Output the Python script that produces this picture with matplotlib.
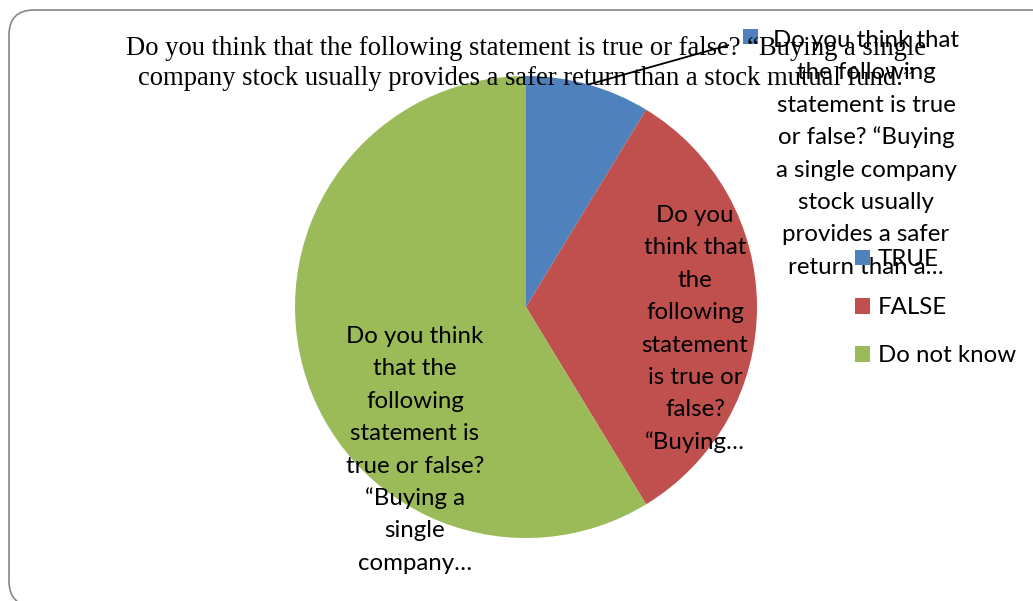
import matplotlib.pyplot as plt
from matplotlib.patches import FancyBboxPatch, Rectangle
from matplotlib.transforms import IdentityTransform
import numpy as np

W, H = 1033, 601

title_lines = ["Do you think that the following statement is true or false? \u201cBuying a single",
               "company stock usually provides a safer return than a stock mutual fund.\u201d"]
categories = ["TRUE", "FALSE", "Do not know"]
shares = [8.7, 32.6, 58.7]
colors = ["#4F81BD", "#C0504D", "#9BBB59"]

# data labels, wrapped the way the label boxes break them
label_lines = [
    ["Do you think that", "the following", "statement is true", "or false? \u201cBuying",
     "a single company", "stock usually", "provides a safer", "return than a\u2026"],
    ["Do you", "think that", "the", "following", "statement", "is true or",
     "false?", "\u201cBuying\u2026"],
    ["Do you think", "that the", "following", "statement is", "true or false?",
     "\u201cBuying a", "single", "company\u2026"],
]

SANS = ["Lato", "DejaVu Sans"]
SERIF = ["Liberation Serif", "DejaVu Serif"]
FS = 17.3        # label / legend size
PITCH = 32.4     # line pitch of the wrapped labels, px


def px(y):
    # pixel rows count from the top, data y from the bottom
    return H - y


fig = plt.figure(figsize=(W / 100, H / 100), dpi=100)
ax = fig.add_axes([0, 0, 1, 1])

cx, cy, r = 526, px(307), 231
wedges, _ = ax.pie(shares, colors=colors, startangle=90, counterclock=False,
                   center=(cx, cy), radius=r, wedgeprops=dict(linewidth=0))
ax.set_xlim(0, W)
ax.set_ylim(0, H)
ax.set_aspect("equal")
ax.axis("off")

# chart area border in canvas pixels, runs off the right and bottom edges
fig.patches.append(FancyBboxPatch((9, px(606)), 1200, 596,
                                  boxstyle="round,pad=0,rounding_size=25",
                                  fc="none", ec="#888888", lw=1.2,
                                  transform=IdentityTransform(), figure=fig))


def stacked(x, y_first, lines, pitch, **kw):
    for i, s in enumerate(lines):
        ax.text(x, px(y_first + i * pitch), s, ha="center", va="baseline",
                color="black", **kw)


stacked(cx, 55, title_lines, 30, fontsize=19.2, family=SERIF)

# TRUE label sits outside the pie with a leader line and its own key
w0 = wedges[0]
mid = np.deg2rad((w0.theta1 + w0.theta2) / 2)
ax.plot([cx + r * np.cos(mid), 729], [cy + r * np.sin(mid), px(45)],
        color="black", lw=1.3, solid_capstyle="butt")
ax.add_patch(Rectangle((743, px(44)), 15, 15, color=colors[0], lw=0))
stacked(866, 47, label_lines[0], PITCH, fontsize=FS, family=SANS)
stacked(695, 222, label_lines[1], PITCH, fontsize=FS, family=SANS)
stacked(415, 343, label_lines[2], PITCH, fontsize=FS, family=SANS)

fs_px = FS * 100 / 72
ax.legend(wedges, categories, loc="upper left", bbox_to_anchor=(855, px(249)),
          bbox_transform=ax.transData, frameon=False,
          prop={"family": SANS, "size": FS},
          handlelength=15 / fs_px, handleheight=15 / fs_px,
          handletextpad=8 / fs_px, labelspacing=1.13,
          borderpad=0, borderaxespad=0)

fig.savefig("out.png", dpi=100)
